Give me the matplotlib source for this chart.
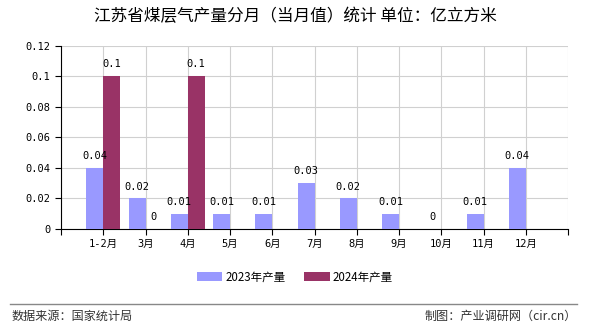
import matplotlib.pyplot as plt
import numpy as np

plt.rcParams['font.family'] = ['Noto Sans CJK SC', 'DejaVu Sans']
NUM_FONT = ['DejaVu Sans Mono', 'Noto Sans CJK SC']

meses = ["1-2月", "3月", "4月", "5月", "6月", "7月", "8月", "9月", "10月", "11月", "12月"]
prod_2023 = [0.04, 0.02, 0.01, 0.01, 0.01, 0.03, 0.02, 0.01, 0, 0.01, 0.04]
prod_2024 = [0.1, 0, 0.1]
yticks = [0, 0.02, 0.04, 0.06, 0.08, 0.1, 0.12]
ytick_labels = ["0", "0.02", "0.04", "0.06", "0.08", "0.1", "0.12"]

fig = plt.figure(figsize=(5.9, 3.3), dpi=100)
ax = fig.add_axes([61/590, 1 - 229/330, (568 - 61)/590, (229 - 45.5)/330])

x = np.arange(1, len(meses) + 1)
x24 = x[:len(prod_2024)]
ancho = 0.4

b1 = ax.bar(x - ancho/2, prod_2023, ancho, color="#9999FF", label="2023年产量", zorder=3)
b2 = ax.bar(x24 + ancho/2, prod_2024, ancho, color="#993366", label="2024年产量", zorder=3)

# etiquetas de valor encima de cada barra
for xi, v in zip(x - ancho/2, prod_2023):
    ax.text(xi, v + 0.0045, f"{v:g}", ha="center", va="bottom", fontsize=7.5, family=NUM_FONT)
for xi, v in zip(x24 + ancho/2, prod_2024):
    ax.text(xi, v + 0.0045, f"{v:g}", ha="center", va="bottom", fontsize=7.5, family=NUM_FONT)

ax.set_xlim(0, 12)
ax.set_ylim(0, 0.12)
ax.set_yticks(yticks)
ax.set_yticklabels(ytick_labels, fontsize=7.5, family=NUM_FONT)
ax.set_xticks(np.arange(0, 13))
ax.set_xticklabels([""] + meses + [""], fontsize=7.5, family=NUM_FONT)
ax.tick_params(axis="x", length=4, direction="out")
ax.tick_params(axis="y", length=4, direction="out")
ax.grid(True, color="#d0d0d0", linewidth=0.8, zorder=0)

for lado in ["top", "right"]:
    ax.spines[lado].set_visible(False)
ax.spines["left"].set_color("black")
ax.spines["bottom"].set_color("black")

fig.text(0.5, 1 - 17/330, "江苏省煤层气产量分月（当月值）统计 单位：亿立方米",
         ha="center", va="center", fontsize=12)

fig.legend(handles=[b1, b2], loc="center", bbox_to_anchor=(0.5, 1 - 277/330),
           ncol=2, frameon=False, fontsize=8.3, handlelength=2.2, handleheight=0.9,
           columnspacing=1.6, handletextpad=0.3)

fig.add_artist(plt.Line2D([10/590, 577/590], [1 - 304/330, 1 - 304/330],
                          color="#888888", linewidth=1))
fig.text(12/590, 1 - 316/330, "数据来源：国家统计局", ha="left", va="center",
         fontsize=8.7, color="#333333")
fig.text(577/590, 1 - 316/330, "制图：产业调研网（cir.cn）", ha="right", va="center",
         fontsize=8.7, color="#333333")

plt.savefig("out.png", dpi=100)
